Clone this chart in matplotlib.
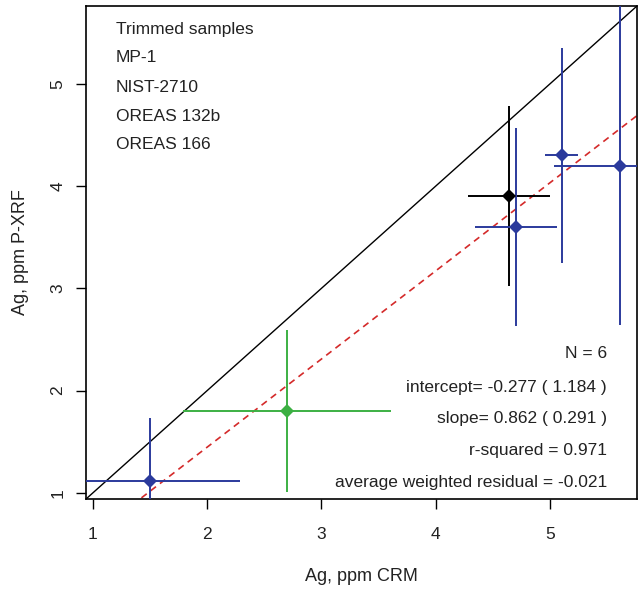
import matplotlib
matplotlib.use("Agg")
import matplotlib.pyplot as plt
import numpy as np

plt.rcParams['font.family'] = ['Liberation Sans', 'DejaVu Sans']

# Data
crm = [1.50, 2.70, 4.64, 4.70, 5.10, 5.61]
xrf = [1.12, 1.80, 3.90, 3.60, 4.30, 4.20]
crm_err = [0.79, 0.91, 0.355, 0.36, 0.145, 0.58]
xrf_err = [0.61, 0.79, 0.88, 0.97, 1.05, 1.56]
point_colors = ["#2b3a9c", "#3cb043", "#000000", "#2b3a9c", "#2b3a9c", "#2b3a9c"]

intercept = -0.277
slope = 0.862
legend_lines = ["Trimmed samples", "MP-1", "NIST-2710", "OREAS 132b", "OREAS 166"]
stats_lines = ["N = 6", "intercept= -0.277 ( 1.184 )", "slope= 0.862 ( 0.291 )",
               "r-squared = 0.971", "average weighted residual = -0.021"]
xticks = [1, 2, 3, 4, 5]
yticks = [1, 2, 3, 4, 5]
lims = (0.94, 5.76)

fig = plt.figure(figsize=(6.4, 5.93), dpi=100)
ax = fig.add_axes([0.1344, 0.1585, 0.8609, 0.8314])
ax.set_xlim(*lims)
ax.set_ylim(*lims)

# identity line
ax.plot(lims, lims, color="black", lw=1.0, zorder=2)
# fitted line
xx = np.array(lims)
ax.plot(xx, intercept + slope * xx, color="#d42a2a", lw=1.2, ls=(0, (4, 3)), zorder=2)

for x, y, ex, ey, c in zip(crm, xrf, crm_err, xrf_err, point_colors):
    ax.errorbar(x, y, xerr=ex, yerr=ey, fmt='D', color=c, ms=7.2, mew=0,
                elinewidth=1.4, capsize=0, zorder=3)

txt_color = "#222222"
# top-left text
for i, t in enumerate(legend_lines):
    yp = [30, 58, 88, 117, 145][i]
    ax.text(0.054, (499 - yp) / 493.0, t, transform=ax.transAxes, fontsize=12.5,
            ha="left", va="center", color=txt_color)

# bottom-right stats text
ys = [353, 387, 418, 450, 482]
for t, yp in zip(stats_lines, ys):
    yf = (499 - yp) / 493.0
    ax.text(0.9456, yf, t, transform=ax.transAxes, fontsize=12.5,
            ha="right", va="center", color=txt_color)

ax.set_xticks(xticks)
ax.set_yticks(yticks)
ax.set_xticklabels([str(v) for v in xticks], fontsize=12.5, color=txt_color)
ax.set_yticklabels([str(v) for v in yticks], fontsize=12.5, rotation=90, va="center",
                   color=txt_color)
ax.tick_params(axis="x", direction="out", length=7, width=1, pad=13)
ax.tick_params(axis="y", direction="out", length=7, width=1, pad=8)
for s in ax.spines.values():
    s.set_linewidth(1.2)

ax.set_xlabel("Ag, ppm CRM", fontsize=13, color=txt_color, va="center")
ax.set_ylabel("Ag, ppm P-XRF", fontsize=13, color=txt_color, va="center")
ax.xaxis.set_label_coords(0.5, (499 - 576) / 493.0)
ax.yaxis.set_label_coords((20 - 86) / 551.0, 0.5)

fig.savefig("out.png", dpi=100)
